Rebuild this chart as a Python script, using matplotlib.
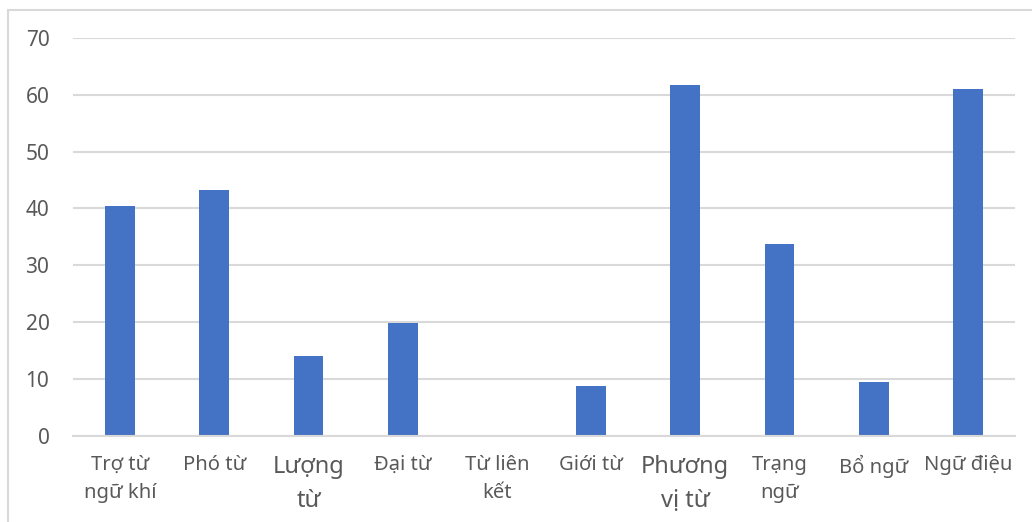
import matplotlib
matplotlib.use('Agg')
import matplotlib.pyplot as plt
from matplotlib.patches import Rectangle

categories = ['Trợ từ\nngữ khí', 'Phó từ', 'Lượng\ntừ', 'Đại từ', 'Từ liên\nkết',
              'Giới từ', 'Phương\nvị từ', 'Trạng\nngữ', 'Bổ ngữ', 'Ngữ điệu']
values = [40.5, 43.2, 14.0, 19.9, 0, 8.8, 61.8, 33.8, 9.5, 61.1]
y_ticks = [0, 10, 20, 30, 40, 50, 60, 70]

plt.rcParams['font.family'] = ['Noto Sans', 'DejaVu Sans']

fig = plt.figure(figsize=(10.32, 5.22), dpi=100)
# chart frame (cut off at right/bottom)
fig.patches.append(Rectangle((8 / 1032, -0.1), 1.2, 1 - 9.5 / 522 + 0.1,
                             transform=fig.transFigure, fill=False,
                             edgecolor='#d9d9d9', linewidth=1.5))

ax = fig.add_axes([73 / 1032, 1 - 435.8 / 522, 942 / 1032, (435.8 - 38) / 522])
x = range(len(categories))
ax.bar(x, values, width=0.318, color='#4472c4', zorder=3)

ax.set_xlim(-0.5, len(categories) - 0.5)
ax.set_ylim(0, 70)
ax.set_yticks(y_ticks)
ax.set_yticklabels([str(v) for v in y_ticks])
ax.set_xticks(list(x))
ax.set_xticklabels(categories, linespacing=1.55)

ax.grid(axis='y', color='#d9d9d9', linewidth=1.5, zorder=0)
for s in ['top', 'right', 'left']:
    ax.spines[s].set_visible(False)
ax.spines['bottom'].set_color('#d9d9d9')
ax.spines['bottom'].set_linewidth(1.5)
ax.spines['bottom'].set_zorder(4)

ax.tick_params(axis='both', length=0, colors='#595959', labelsize=14.5)
ax.tick_params(axis='y', labelsize=15, pad=17)
ax.tick_params(axis='x', pad=14)
for i, lab in enumerate(ax.get_xticklabels()):
    lab.set_verticalalignment('top')
    if i in (2, 6):
        lab.set_fontsize(17)

fig.savefig('out.png', dpi=100)
